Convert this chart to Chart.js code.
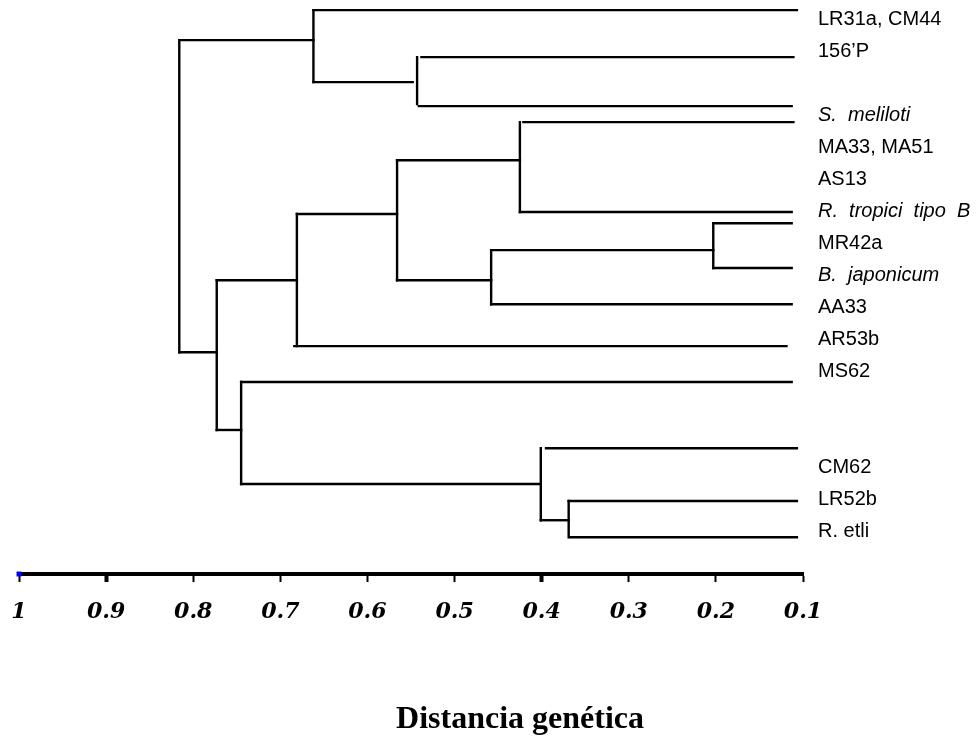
<!DOCTYPE html>
<html lang="es">
<head>
<meta charset="UTF-8">
<title>Distancia genética</title>
<script src="https://cdn.jsdelivr.net/npm/chart.js"></script>
<style>
  html, body { margin: 0; padding: 0; background: #fff; }
</style>
</head>
<body>
<canvas id="dendrograma" width="977" height="738"></canvas>
<script>
    // hojas del dendrograma y la fila en que se escribe cada una
    const cepas = ['LR31a, CM44', '156\u2019P', 'S.  meliloti', 'MA33, MA51', 'AS13',
        'R.  tropici  tipo  B', 'MR42a', 'B.  japonicum', 'AA33', 'AR53b', 'MS62',
        'CM62', 'LR52b', 'R. etli'];
    const filasCepa = [0, 1, 3, 4, 5, 6, 7, 8, 9, 10, 11, 14, 15, 16];
    const cursiva = [false, false, true, false, false, true, false, true, false, false, false, false, false, false];

    const marcasX = [1, 0.9, 0.8, 0.7, 0.6, 0.5, 0.4, 0.3, 0.2, 0.1];

    // ramas horizontales: fila, distancia izquierda, distancia derecha
    const ramaFila  = [-0.28, 0.66, 1.97, 1.19, 2.72, 3.22, 4.41, 6.03, 6.09, 6.38, 7.22, 7.78,
                        8.16, 8.16, 8.91, 10.22, 10.41, 11.34, 12.84, 13.41, 14.53, 15.06, 15.66, 16.19];
    const ramaDesde = [0.662, 0.816, 0.662, 0.538, 0.541, 0.421, 0.566, 0.425, 0.681, 0.203, 0.458, 0.203,
                        0.773, 0.566, 0.458, 0.684, 0.816, 0.745, 0.773, 0.395, 0.745, 0.369, 0.401, 0.367];
    const ramaHasta = [0.107, 0.662, 0.548, 0.111, 0.113, 0.111, 0.425, 0.113, 0.566, 0.113, 0.203, 0.113,
                        0.681, 0.458, 0.113, 0.119, 0.773, 0.113, 0.745, 0.107, 0.401, 0.107, 0.369, 0.107];

    // uniones verticales: distancia, fila superior, fila inferior
    const unionDist  = [0.816, 0.662, 0.543, 0.425, 0.566, 0.203, 0.458, 0.681, 0.773, 0.745, 0.401, 0.369];
    const unionDesde = [0.66, -0.28, 1.19, 3.22, 4.41, 6.38, 7.22, 6.09, 8.16, 11.34, 13.41, 15.06];
    const unionHasta = [10.41, 1.97, 2.66, 6.03, 8.16, 7.78, 8.91, 10.22, 12.84, 14.53, 15.66, 16.19];

    const filaMin = -0.22;
    const filaMax = 17.34;

    function tramo(puntos) {
        return {
            data: puntos,
            showLine: true,
            borderColor: '#000',
            borderWidth: 2.4,
            borderCapStyle: 'square',
            pointRadius: 0,
            clip: false
        };
    }

    const datasets = [];
    ramaFila.forEach((f, i) => {
        datasets.push(tramo([{ x: ramaDesde[i], y: f }, { x: ramaHasta[i], y: f }]));
    });
    unionDist.forEach((d, i) => {
        datasets.push(tramo([{ x: d, y: unionDesde[i] }, { x: d, y: unionHasta[i] }]));
    });
    // punto azul al inicio del eje
    datasets.push({
        data: [{ x: 1, y: filaMax }],
        pointStyle: 'rect',
        pointRadius: 3.5,
        backgroundColor: '#0000ff',
        borderWidth: 0,
        clip: false
    });

    const tituloEje = {
        id: 'tituloEje',
        afterDraw(chart) {
            const c = chart.ctx;
            c.save();
            c.font = 'bold 32px "Liberation Serif", "Times New Roman", serif';
            c.fillStyle = '#000';
            c.textAlign = 'center';
            c.textBaseline = 'alphabetic';
            c.fillText('Distancia genética', 520, 728);
            c.restore();
        }
    };

    new Chart(document.getElementById('dendrograma'), {
        type: 'scatter',
        data: { datasets: datasets },
        plugins: [tituloEje],
        options: {
            responsive: false,
            animation: false,
            events: [],
            layout: { padding: { top: 12, left: 19, right: 0, bottom: 0 } },
            plugins: {
                legend: { display: false },
                tooltip: { enabled: false }
            },
            scales: {
                x: {
                    type: 'linear',
                    reverse: true,
                    min: 0.1,
                    max: 1,
                    afterBuildTicks: s => { s.ticks = marcasX.map(v => ({ value: v })); },
                    afterFit: s => {
                        s.height = 164;
                        s.paddingLeft = 0;
                        s.paddingRight = 0;
                    },
                    border: { display: true, color: '#000', width: 4 },
                    grid: {
                        display: true,
                        drawOnChartArea: false,
                        drawTicks: true,
                        tickLength: 8,
                        tickColor: '#000',
                        color: '#000',
                        tickWidth: ctx => {
                            const v = ctx.tick ? ctx.tick.value : 0;
                            return (Math.abs(v - 0.9) < 1e-6 || Math.abs(v - 0.4) < 1e-6) ? 4 : 2;
                        }
                    },
                    ticks: {
                        color: '#000',
                        padding: 17,
                        autoSkip: false,
                        maxRotation: 0,
                        font: { family: '"DejaVu Serif", serif', size: 22, style: 'italic', weight: 'bold' },
                        callback: v => String(Number(v.toFixed(1)))
                    }
                },
                y: {
                    type: 'linear',
                    position: 'right',
                    reverse: true,
                    min: filaMin,
                    max: filaMax,
                    afterBuildTicks: s => { s.ticks = filasCepa.map(v => ({ value: v })); },
                    afterFit: s => {
                        s.width = 174;
                        s.paddingTop = 0;
                        s.paddingBottom = 0;
                    },
                    border: { display: false },
                    grid: { display: false, drawTicks: false },
                    ticks: {
                        color: '#000',
                        padding: 15,
                        autoSkip: false,
                        font: ctx => {
                            const i = ctx.tick ? filasCepa.indexOf(ctx.tick.value) : -1;
                            return { family: '"Liberation Sans", Arial, sans-serif', size: 20, style: cursiva[i] ? 'italic' : 'normal' };
                        },
                        callback: v => cepas[filasCepa.indexOf(v)]
                    }
                }
            }
        }
    });
</script>
</body>
</html>
